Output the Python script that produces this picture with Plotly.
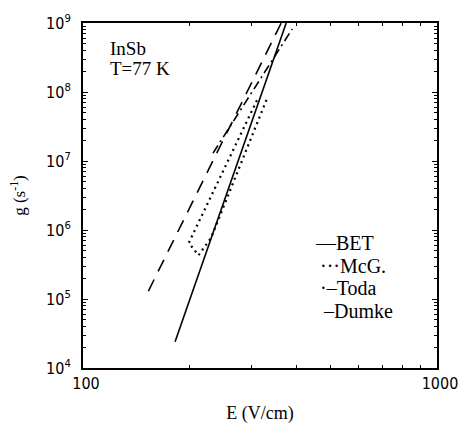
import plotly.graph_objects as go

# ---- data ----
bet_E = [182, 375]
bet_g = [2.4e4, 1.0e9]

mcg_E = [310, 199, 212, 230, 333]
mcg_g = [7.6e7, 6.5e5, 4.3e5, 7.7e5, 8.7e7]

toda_E = [233, 390]
toda_g = [1.3e7, 8.2e8]

dumke_E = [153, 363]
dumke_g = [1.3e5, 1.0e9]

series_names = ["BET", "McG.", "Toda", "Dumke"]
legend_marks = ["\u2014", "\u00b7\u00b7\u00b7", "\u00b7\u2013", "\u2013"]

y_tickvals = [1e4, 1e5, 1e6, 1e7, 1e8, 1e9]
y_ticktext = ["10<sup>4</sup>", "10<sup>5</sup>", "10<sup>6</sup>",
              "10<sup>7</sup>", "10<sup>8</sup>", "10<sup>9</sup>"]
x_tickvals = [100, 1000]
x_ticktext = ["100", "1000"]

y_minor = [k * 10 ** d for d in range(4, 9) for k in range(2, 10)]
x_minor = [k * 100 for k in range(2, 10)]

serif = "Liberation Serif, Times New Roman, serif"
narrow = "Liberation Sans Narrow, DejaVu Sans Condensed, sans-serif"

fig = go.Figure()
fig.add_trace(go.Scatter(x=bet_E, y=bet_g, mode="lines", name=series_names[0],
                         line=dict(color="black", width=1.6, dash="solid")))
fig.add_trace(go.Scatter(x=mcg_E, y=mcg_g, mode="lines", name=series_names[1],
                         line=dict(color="black", width=2.2, dash="2px,4px")))
fig.add_trace(go.Scatter(x=toda_E, y=toda_g, mode="lines", name=series_names[2],
                         line=dict(color="black", width=1.6, dash="9px,4px,2px,4px")))
fig.add_trace(go.Scatter(x=dumke_E, y=dumke_g, mode="lines", name=series_names[3],
                         line=dict(color="black", width=1.6, dash="13px,9px")))

# legend drawn as text lines (paper coords of the plot area)
leg_x = [0.651, 0.663, 0.663, 0.672]
leg_y = [0.363, 0.297, 0.231, 0.165]
for mark, name, lx, ly in zip(legend_marks, series_names, leg_x, leg_y):
    fig.add_annotation(x=lx, y=ly, xref="paper", yref="paper", xanchor="left",
                       yanchor="middle", showarrow=False, text=mark + name,
                       font=dict(family=serif, size=20, color="black"))

fig.add_annotation(x=0.072, y=0.925, xref="paper", yref="paper", xanchor="left",
                   yanchor="middle", showarrow=False, text="InSb",
                   font=dict(family=serif, size=19, color="black"))
fig.add_annotation(x=0.072, y=0.868, xref="paper", yref="paper", xanchor="left",
                   yanchor="middle", showarrow=False, text="T=77 K",
                   font=dict(family=serif, size=19, color="black"))

axis_common = dict(showgrid=False, zeroline=False, showline=True, linecolor="black",
                   linewidth=2, mirror="ticks", ticks="inside", tickcolor="black",
                   ticklen=5, tickwidth=1)

fig.update_xaxes(type="log", range=[2, 3], tickmode="array", tickvals=x_tickvals,
                 ticktext=x_ticktext, ticklabelshift=3, ticklabeloverflow="allow",
                 tickfont=dict(family=narrow, size=16, color="black"),
                 minor=dict(tickmode="array", tickvals=x_minor, ticks="inside",
                            ticklen=3, tickcolor="black"),
                 title=dict(text="E (V/cm)", font=dict(family=serif, size=18, color="black"),
                            standoff=14),
                 **axis_common)
fig.update_yaxes(type="log", range=[4, 9], tickmode="array", tickvals=y_tickvals,
                 ticktext=y_ticktext, ticklabelstandoff=7, ticklabeloverflow="allow",
                 tickfont=dict(family=narrow, size=16, color="black"),
                 minor=dict(tickmode="array", tickvals=y_minor, ticks="inside",
                            ticklen=3, tickcolor="black"),
                 title=dict(text="g (s<sup>-1</sup>)", font=dict(family=serif, size=17, color="black"),
                            standoff=16),
                 **axis_common)

fig.update_layout(width=470, height=432, margin=dict(l=83, r=23, t=12, b=62),
                  paper_bgcolor="white", plot_bgcolor="white", showlegend=False)

fig.write_html("out.html", config={"displayModeBar": False},
               post_script="document.body.style.margin='0px';")
